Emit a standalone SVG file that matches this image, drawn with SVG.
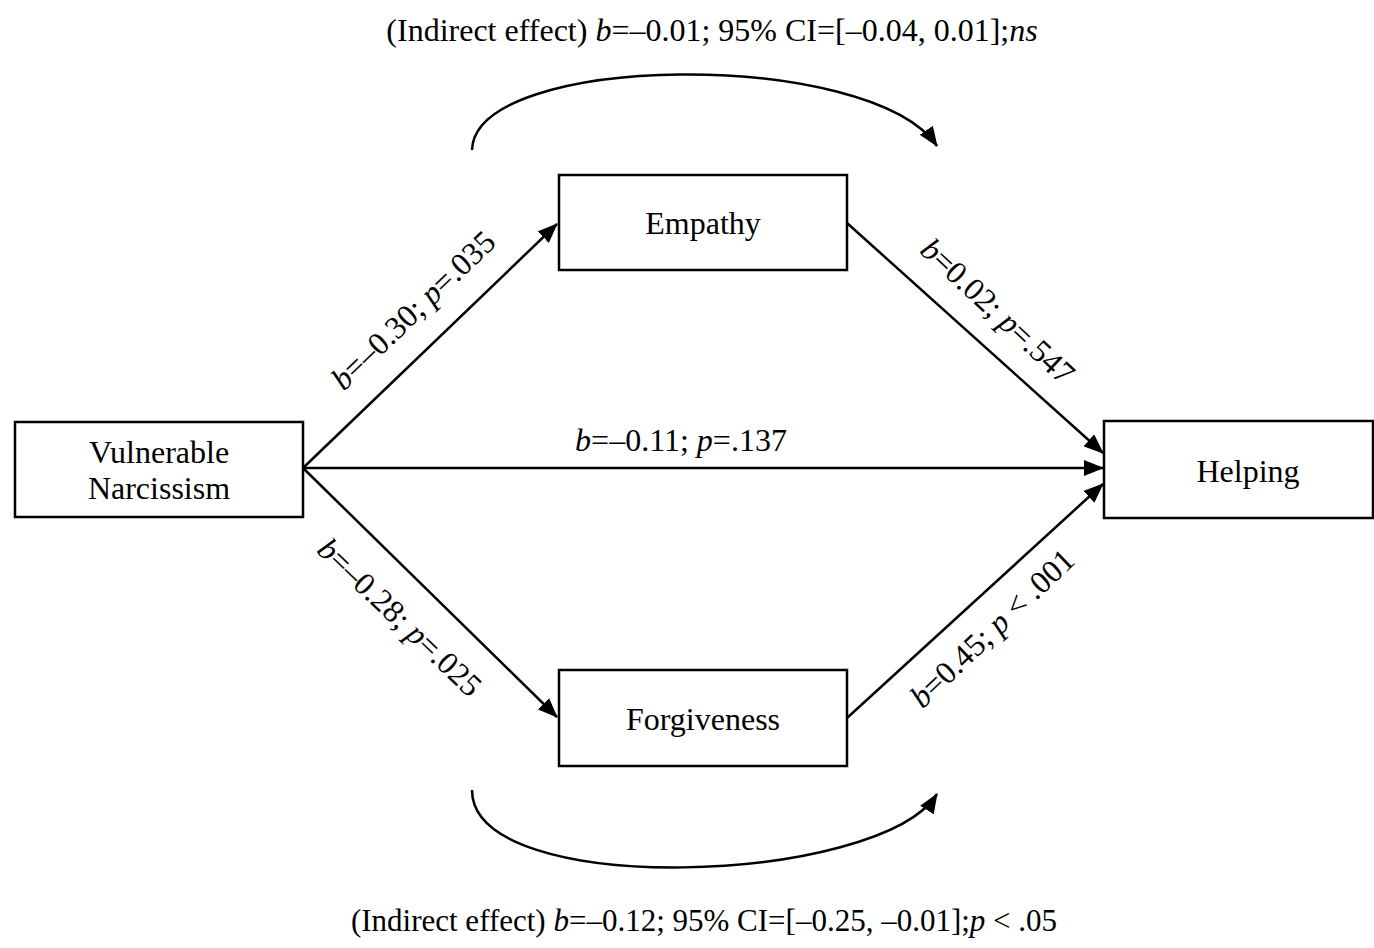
<svg xmlns="http://www.w3.org/2000/svg" width="1374" height="948" viewBox="0 0 1374 948">
<style>
text{font-family:"Liberation Serif","Times New Roman",serif;font-size:32px;fill:#000}
.box{fill:#fff;stroke:#000;stroke-width:2.5}
.ln{fill:none;stroke:#000;stroke-width:2.5}
.i{font-style:italic}
</style>
<defs>
<marker id="ah" markerUnits="userSpaceOnUse" markerWidth="20" markerHeight="16" viewBox="0 0 20 16" refX="19" refY="8" orient="auto">
<path d="M0,0 L20,8 L0,16 Z" fill="#000"/>
</marker>
</defs>
<rect width="1374" height="948" fill="#fff"/>
<g id="connectors">
<line class="ln" x1="303" y1="468" x2="557" y2="224" marker-end="url(#ah)"/>
<line class="ln" x1="303" y1="468" x2="557" y2="717" marker-end="url(#ah)"/>
<line class="ln" x1="303" y1="468" x2="1103" y2="468" marker-end="url(#ah)"/>
<line class="ln" x1="847" y1="223" x2="1103" y2="453" marker-end="url(#ah)"/>
<line class="ln" x1="847" y1="718" x2="1103" y2="484" marker-end="url(#ah)"/>
<path class="ln" d="M472,150 C475,52 870,48 937,146" marker-end="url(#ah)"/>
<path class="ln" d="M472,790 C472,900 880,885 937,794" marker-end="url(#ah)"/>
</g>
<g id="labels">
<text x="712" y="41" text-anchor="middle">(Indirect effect) <tspan class="i">b</tspan>=–0.01; 95% CI=[–0.04, 0.01];<tspan class="i">ns</tspan></text>
<text x="704" y="931" text-anchor="middle" style="font-size:31px">(Indirect effect) <tspan class="i">b</tspan>=–0.12; 95% CI=[–0.25, –0.01];<tspan class="i">p</tspan> &lt; .05</text>
<text x="681" y="451" text-anchor="middle"><tspan class="i">b</tspan>=–0.11; <tspan class="i">p</tspan>=.137</text>
<text transform="translate(413,310) rotate(-43.8)" x="0" y="11" text-anchor="middle"><tspan class="i">b</tspan>=–0.30; <tspan class="i">p</tspan>=.035</text>
<text transform="translate(998,311) rotate(43)" x="0" y="11" text-anchor="middle"><tspan class="i">b</tspan>=0.02; <tspan class="i">p</tspan>=.547</text>
<text transform="translate(400,617) rotate(43.7)" x="0" y="11" text-anchor="middle"><tspan class="i">b</tspan>=–0.28; <tspan class="i">p</tspan>=.025</text>
<text transform="translate(992,628) rotate(-43.7)" x="0" y="11" text-anchor="middle"><tspan class="i">b</tspan>=0.45; <tspan class="i">p</tspan> &lt; .001</text>
</g>
<g id="node-vn">
<rect class="box" x="15" y="422" width="288" height="95"/>
<text x="159" y="463" text-anchor="middle">Vulnerable</text>
<text x="159" y="499" text-anchor="middle">Narcissism</text>
</g>
<g id="node-empathy">
<rect class="box" x="559" y="175" width="288" height="95"/>
<text x="703" y="234" text-anchor="middle">Empathy</text>
</g>
<g id="node-forgiveness">
<rect class="box" x="559" y="670" width="288" height="96"/>
<text x="703" y="730" text-anchor="middle">Forgiveness</text>
</g>
<g id="node-helping">
<rect class="box" x="1104" y="421" width="269" height="97"/>
<text x="1248" y="482" text-anchor="middle">Helping</text>
</g>
</svg>
